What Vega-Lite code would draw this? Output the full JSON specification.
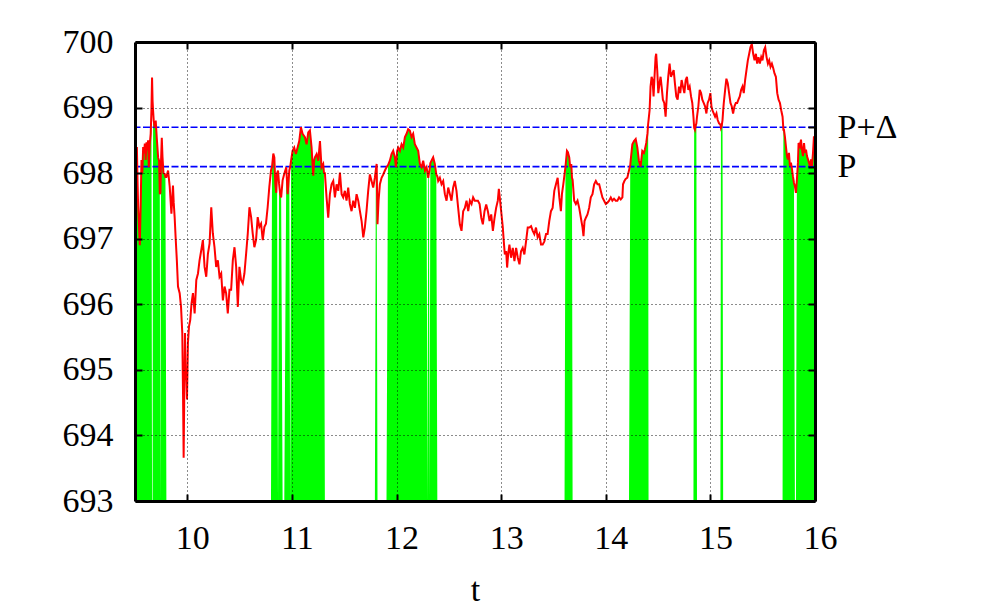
{
  "$schema": "https://vega.github.io/schema/vega-lite/v6.json",
  "width": 680,
  "height": 459,
  "autosize": {"type": "none"},
  "padding": {"left": 135, "top": 42, "right": 166, "bottom": 112},
  "background": "white",
  "config": {"view": {"stroke": null}, "font": "Liberation Serif"},
  "datasets": {
    "series": [
      {"t":9.500,"p":698.55,"f":698.55},{"t":9.506,"p":698.65,"f":698.65},{"t":9.512,"p":698.20,"f":698.20},{"t":9.518,"p":698.40,"f":698.40},
      {"t":9.524,"p":697.90,"f":697.90},{"t":9.530,"p":697.50,"f":697.50},{"t":9.538,"p":697.20,"f":697.20},{"t":9.546,"p":696.90,"f":696.90},
      {"t":9.554,"p":697.50,"f":697.50},{"t":9.562,"p":698.20,"f":698.20},{"t":9.570,"p":698.00,"f":698.00},{"t":9.578,"p":698.40,"f":698.40},
      {"t":9.586,"p":698.30,"f":698.30},{"t":9.594,"p":698.45,"f":698.45},{"t":9.602,"p":698.20,"f":698.20},{"t":9.610,"p":698.47,"f":698.47},
      {"t":9.618,"p":698.35,"f":698.35},{"t":9.625,"p":698.50,"f":698.50},{"t":9.632,"p":698.09,"f":698.09},{"t":9.641,"p":698.44,"f":698.44},
      {"t":9.650,"p":698.60,"f":698.60},{"t":9.657,"p":698.95,"f":698.95},{"t":9.663,"p":699.46},{"t":9.668,"p":699.10},
      {"t":9.673,"p":698.95,"f":698.95},{"t":9.679,"p":698.80,"f":698.80},{"t":9.689,"p":698.70,"f":698.70},{"t":9.698,"p":698.80,"f":698.80},
      {"t":9.708,"p":698.54,"f":698.54},{"t":9.721,"p":698.24,"f":698.24},{"t":9.730,"p":698.19,"f":698.19},{"t":9.737,"p":697.68,"f":697.68},
      {"t":9.743,"p":697.70},{"t":9.749,"p":698.19,"f":698.19},{"t":9.756,"p":698.54,"f":698.54},{"t":9.763,"p":698.24,"f":698.24},
      {"t":9.772,"p":698.00,"f":698.00},{"t":9.784,"p":697.99,"f":697.99},{"t":9.791,"p":697.94,"f":697.94},{"t":9.800,"p":697.94},
      {"t":9.816,"p":698.04},{"t":9.832,"p":697.79},{"t":9.848,"p":697.38},{"t":9.863,"p":697.81},{"t":9.870,"p":697.55},
      {"t":9.879,"p":697.33},{"t":9.888,"p":697.03},{"t":9.900,"p":696.67},{"t":9.911,"p":696.27},{"t":9.927,"p":696.17},
      {"t":9.940,"p":695.96},{"t":9.952,"p":695.56},{"t":9.959,"p":694.65},{"t":9.965,"p":693.66},{"t":9.971,"p":694.65},
      {"t":9.978,"p":695.56},{"t":9.984,"p":694.85},{"t":9.990,"p":695.00},{"t":9.997,"p":694.55},{"t":10.006,"p":695.41},
      {"t":10.016,"p":695.66},{"t":10.028,"p":695.76},{"t":10.040,"p":696.01},{"t":10.054,"p":696.17},{"t":10.070,"p":695.86},
      {"t":10.086,"p":696.37},{"t":10.102,"p":696.47},{"t":10.117,"p":696.67},{"t":10.133,"p":696.82},{"t":10.149,"p":696.98},
      {"t":10.165,"p":696.57},{"t":10.181,"p":696.42},{"t":10.197,"p":696.77},{"t":10.213,"p":696.93},{"t":10.229,"p":697.48},
      {"t":10.244,"p":697.08},{"t":10.260,"p":696.87},{"t":10.276,"p":696.57},{"t":10.292,"p":696.67},{"t":10.308,"p":696.42},
      {"t":10.324,"p":696.47},{"t":10.340,"p":696.06},{"t":10.356,"p":696.27},{"t":10.371,"p":696.17},{"t":10.387,"p":695.86},
      {"t":10.403,"p":696.22},{"t":10.419,"p":696.22},{"t":10.435,"p":696.67},{"t":10.451,"p":696.87},{"t":10.467,"p":696.57},
      {"t":10.483,"p":695.96},{"t":10.498,"p":696.57},{"t":10.514,"p":696.37},{"t":10.530,"p":696.32},{"t":10.546,"p":696.47},
      {"t":10.562,"p":696.77},{"t":10.578,"p":697.08},{"t":10.594,"p":697.48},{"t":10.610,"p":697.33},{"t":10.625,"p":697.08},
      {"t":10.641,"p":696.87},{"t":10.657,"p":696.98},{"t":10.673,"p":697.33},{"t":10.689,"p":697.18},{"t":10.705,"p":697.23},
      {"t":10.721,"p":696.98},{"t":10.737,"p":697.18},{"t":10.752,"p":697.23},{"t":10.768,"p":697.48},{"t":10.784,"p":697.79},
      {"t":10.800,"p":698.04},{"t":10.810,"p":698.10,"f":698.10},{"t":10.822,"p":698.30,"f":698.30},{"t":10.832,"p":698.24,"f":698.24},
      {"t":10.841,"p":697.84,"f":697.84},{"t":10.850,"p":697.70,"f":697.70},{"t":10.858,"p":698.00,"f":698.00},{"t":10.867,"p":698.04},
      {"t":10.877,"p":697.84,"f":697.84},{"t":10.887,"p":697.70,"f":697.70},{"t":10.897,"p":697.63,"f":697.63},{"t":10.911,"p":697.89},
      {"t":10.927,"p":697.99},{"t":10.946,"p":698.09,"f":698.09},{"t":10.959,"p":697.68,"f":697.68},{"t":10.975,"p":698.04,"f":698.04},
      {"t":10.984,"p":698.10},{"t":10.992,"p":698.19,"f":698.19},{"t":11.006,"p":698.34,"f":698.34},{"t":11.022,"p":698.39,"f":698.39},
      {"t":11.038,"p":698.29,"f":698.29},{"t":11.054,"p":698.39,"f":698.39},{"t":11.070,"p":698.49,"f":698.49},{"t":11.086,"p":698.70,"f":698.70},
      {"t":11.102,"p":698.60,"f":698.60},{"t":11.124,"p":698.55,"f":698.55},{"t":11.140,"p":698.44,"f":698.44},{"t":11.156,"p":698.62,"f":698.62},
      {"t":11.172,"p":698.65,"f":698.65},{"t":11.188,"p":698.39,"f":698.39},{"t":11.204,"p":697.96,"f":697.96},{"t":11.212,"p":698.19,"f":698.19},
      {"t":11.220,"p":698.24,"f":698.24},{"t":11.236,"p":698.29,"f":698.29},{"t":11.252,"p":698.19,"f":698.19},{"t":11.268,"p":698.49,"f":698.49},
      {"t":11.283,"p":698.09,"f":698.09},{"t":11.299,"p":698.14,"f":698.14},{"t":11.306,"p":698.01,"f":698.01},{"t":11.315,"p":698.00},
      {"t":11.331,"p":697.63},{"t":11.347,"p":697.32},{"t":11.363,"p":697.68},{"t":11.379,"p":697.83},{"t":11.395,"p":697.88},
      {"t":11.411,"p":697.63},{"t":11.427,"p":697.83},{"t":11.443,"p":697.73},{"t":11.459,"p":698.01},{"t":11.475,"p":697.68},
      {"t":11.490,"p":697.63},{"t":11.506,"p":697.73},{"t":11.522,"p":697.58},{"t":11.538,"p":697.78},{"t":11.554,"p":697.53},
      {"t":11.570,"p":697.42},{"t":11.586,"p":697.58},{"t":11.602,"p":697.47},{"t":11.618,"p":697.68},{"t":11.634,"p":697.58},
      {"t":11.650,"p":697.42},{"t":11.666,"p":697.27},{"t":11.682,"p":697.02},{"t":11.697,"p":697.17},{"t":11.713,"p":697.42},
      {"t":11.729,"p":697.73},{"t":11.745,"p":697.98},{"t":11.761,"p":697.88},{"t":11.777,"p":697.78},{"t":11.793,"p":697.93},
      {"t":11.802,"p":698.05,"f":698.05},{"t":11.810,"p":698.14,"f":698.14},{"t":11.818,"p":697.22},{"t":11.828,"p":697.58},
      {"t":11.841,"p":697.83},{"t":11.857,"p":697.93},{"t":11.873,"p":697.98},{"t":11.889,"p":698.04},{"t":11.904,"p":698.09},
      {"t":11.918,"p":698.12,"f":698.12},{"t":11.936,"p":698.19,"f":698.19},{"t":11.952,"p":698.29,"f":698.29},{"t":11.968,"p":698.34,"f":698.34},
      {"t":11.984,"p":698.24,"f":698.24},{"t":11.994,"p":698.09,"f":698.09},{"t":12.006,"p":698.34,"f":698.34},{"t":12.016,"p":698.39,"f":698.39},
      {"t":12.032,"p":698.34,"f":698.34},{"t":12.048,"p":698.44,"f":698.44},{"t":12.064,"p":698.39,"f":698.39},{"t":12.080,"p":698.55,"f":698.55},
      {"t":12.096,"p":698.60,"f":698.60},{"t":12.111,"p":698.67,"f":698.67},{"t":12.127,"p":698.65,"f":698.65},{"t":12.143,"p":698.55,"f":698.55},
      {"t":12.159,"p":698.60,"f":698.60},{"t":12.175,"p":698.44,"f":698.44},{"t":12.191,"p":698.39,"f":698.39},{"t":12.207,"p":698.34,"f":698.34},
      {"t":12.223,"p":698.14,"f":698.14},{"t":12.239,"p":698.09,"f":698.09},{"t":12.255,"p":698.19,"f":698.19},{"t":12.271,"p":698.04,"f":698.04},
      {"t":12.287,"p":698.09,"f":698.09},{"t":12.296,"p":698.00},{"t":12.303,"p":697.93,"f":697.93},{"t":12.310,"p":698.00,"f":698.00},
      {"t":12.316,"p":698.05},{"t":12.323,"p":698.15,"f":698.15},{"t":12.334,"p":698.19,"f":698.19},{"t":12.350,"p":698.24,"f":698.24},
      {"t":12.366,"p":698.14,"f":698.14},{"t":12.380,"p":697.98,"f":697.98},{"t":12.390,"p":697.95},{"t":12.398,"p":697.88},
      {"t":12.414,"p":697.93},{"t":12.430,"p":697.83},{"t":12.446,"p":697.88},{"t":12.462,"p":697.68},{"t":12.478,"p":697.58},
      {"t":12.494,"p":697.78},{"t":12.510,"p":697.68},{"t":12.525,"p":697.58},{"t":12.541,"p":697.78},{"t":12.557,"p":697.88},
      {"t":12.573,"p":697.73},{"t":12.589,"p":697.47},{"t":12.605,"p":697.22},{"t":12.621,"p":697.12},{"t":12.637,"p":697.42},
      {"t":12.653,"p":697.47},{"t":12.669,"p":697.58},{"t":12.685,"p":697.42},{"t":12.701,"p":697.58},{"t":12.717,"p":697.53},
      {"t":12.732,"p":697.63},{"t":12.748,"p":697.58},{"t":12.762,"p":697.58},{"t":12.778,"p":697.58},{"t":12.794,"p":697.53},
      {"t":12.810,"p":697.32},{"t":12.825,"p":697.22},{"t":12.841,"p":697.42},{"t":12.857,"p":697.52},{"t":12.873,"p":697.42},
      {"t":12.889,"p":697.27},{"t":12.905,"p":697.37},{"t":12.921,"p":697.12},{"t":12.937,"p":697.32},{"t":12.952,"p":697.47},
      {"t":12.968,"p":697.58},{"t":12.978,"p":697.76},{"t":12.990,"p":697.58},{"t":13.000,"p":697.42},{"t":13.016,"p":697.17},
      {"t":13.025,"p":696.96},{"t":13.035,"p":696.76},{"t":13.048,"p":696.81},{"t":13.057,"p":696.56},{"t":13.067,"p":696.76},
      {"t":13.079,"p":696.91},{"t":13.095,"p":696.71},{"t":13.111,"p":696.86},{"t":13.127,"p":696.66},{"t":13.143,"p":696.86},
      {"t":13.159,"p":696.71},{"t":13.175,"p":696.61},{"t":13.190,"p":696.81},{"t":13.206,"p":696.86},{"t":13.222,"p":696.76},
      {"t":13.238,"p":696.96},{"t":13.254,"p":697.17},{"t":13.270,"p":697.17},{"t":13.286,"p":697.19},{"t":13.302,"p":697.12},
      {"t":13.317,"p":697.07},{"t":13.333,"p":697.17},{"t":13.349,"p":697.02},{"t":13.365,"p":697.07},{"t":13.381,"p":696.91},
      {"t":13.397,"p":696.91},{"t":13.413,"p":696.96},{"t":13.429,"p":697.07},{"t":13.444,"p":697.07},{"t":13.460,"p":697.27},
      {"t":13.476,"p":697.42},{"t":13.492,"p":697.47},{"t":13.508,"p":697.73},{"t":13.524,"p":697.83},{"t":13.540,"p":697.93},
      {"t":13.556,"p":697.63},{"t":13.571,"p":697.42},{"t":13.581,"p":697.68},{"t":13.594,"p":697.83},{"t":13.606,"p":697.98},
      {"t":13.615,"p":698.10,"f":698.10},{"t":13.629,"p":698.34,"f":698.34},{"t":13.638,"p":698.32,"f":698.32},{"t":13.651,"p":698.24,"f":698.24},
      {"t":13.660,"p":698.09,"f":698.09},{"t":13.670,"p":698.14,"f":698.14},{"t":13.677,"p":697.93,"f":697.93},{"t":13.683,"p":697.90},
      {"t":13.698,"p":697.58},{"t":13.714,"p":697.53},{"t":13.730,"p":697.58},{"t":13.746,"p":697.47},{"t":13.762,"p":697.32},
      {"t":13.778,"p":697.17},{"t":13.787,"p":697.04},{"t":13.797,"p":697.27},{"t":13.810,"p":697.32},{"t":13.825,"p":697.37},
      {"t":13.841,"p":697.47},{"t":13.857,"p":697.63},{"t":13.873,"p":697.68},{"t":13.889,"p":697.83},{"t":13.905,"p":697.88},
      {"t":13.921,"p":697.83},{"t":13.937,"p":697.83},{"t":13.952,"p":697.73},{"t":13.968,"p":697.63},{"t":13.984,"p":697.58},
      {"t":14.000,"p":697.53},{"t":14.016,"p":697.55},{"t":14.032,"p":697.58},{"t":14.048,"p":697.63},{"t":14.063,"p":697.58},
      {"t":14.079,"p":697.61},{"t":14.095,"p":697.58},{"t":14.111,"p":697.58},{"t":14.127,"p":697.63},{"t":14.143,"p":697.60},
      {"t":14.159,"p":697.63},{"t":14.165,"p":697.83},{"t":14.178,"p":697.88},{"t":14.190,"p":697.91},{"t":14.206,"p":697.93},
      {"t":14.222,"p":698.04},{"t":14.234,"p":698.12,"f":698.12},{"t":14.238,"p":698.19,"f":698.19},{"t":14.254,"p":698.44,"f":698.44},
      {"t":14.270,"p":698.49,"f":698.49},{"t":14.286,"p":698.52,"f":698.52},{"t":14.302,"p":698.39,"f":698.39},{"t":14.317,"p":698.19,"f":698.19},
      {"t":14.333,"p":698.10,"f":698.10},{"t":14.349,"p":698.34,"f":698.34},{"t":14.365,"p":698.31,"f":698.31},{"t":14.374,"p":698.36,"f":698.36},
      {"t":14.387,"p":698.46,"f":698.46},{"t":14.399,"p":698.61,"f":698.61},{"t":14.405,"p":698.75,"f":698.75},{"t":14.409,"p":698.81},
      {"t":14.419,"p":698.96},{"t":14.428,"p":699.32},{"t":14.438,"p":699.47},{"t":14.447,"p":699.42},{"t":14.457,"p":699.17},
      {"t":14.466,"p":699.47},{"t":14.476,"p":699.77},{"t":14.482,"p":699.82},{"t":14.492,"p":699.57},{"t":14.502,"p":699.22},
      {"t":14.514,"p":699.37},{"t":14.524,"p":699.47},{"t":14.534,"p":699.32},{"t":14.546,"p":699.12},{"t":14.559,"p":699.07},
      {"t":14.572,"p":698.86},{"t":14.585,"p":699.22},{"t":14.597,"p":699.47},{"t":14.610,"p":699.67},{"t":14.623,"p":699.47},
      {"t":14.636,"p":699.52},{"t":14.649,"p":699.57},{"t":14.661,"p":699.37},{"t":14.674,"p":699.17},{"t":14.687,"p":699.12},
      {"t":14.700,"p":699.32},{"t":14.712,"p":699.22},{"t":14.725,"p":699.42},{"t":14.738,"p":699.32},{"t":14.751,"p":699.22},
      {"t":14.764,"p":699.42},{"t":14.776,"p":699.47},{"t":14.789,"p":699.27},{"t":14.802,"p":699.32},{"t":14.815,"p":699.17},
      {"t":14.827,"p":699.07},{"t":14.838,"p":698.86},{"t":14.845,"p":698.69,"f":698.69},{"t":14.852,"p":698.66,"f":698.66},
      {"t":14.859,"p":698.72,"f":698.72},{"t":14.866,"p":698.76,"f":698.76},{"t":14.872,"p":698.86},{"t":14.885,"p":699.02},
      {"t":14.898,"p":699.27},{"t":14.911,"p":699.22},{"t":14.923,"p":699.12},{"t":14.936,"p":699.07},{"t":14.949,"p":699.02},
      {"t":14.962,"p":698.91},{"t":14.974,"p":699.07},{"t":14.987,"p":699.12},{"t":15.000,"p":699.22},{"t":15.010,"p":699.02},
      {"t":15.019,"p":698.96},{"t":15.032,"p":698.91},{"t":15.045,"p":698.86},{"t":15.058,"p":698.91},{"t":15.070,"p":698.81},
      {"t":15.083,"p":698.76},{"t":15.096,"p":698.74},{"t":15.101,"p":698.69,"f":698.69},{"t":15.108,"p":698.72,"f":698.72},
      {"t":15.116,"p":698.81,"f":698.81},{"t":15.122,"p":698.95},{"t":15.128,"p":699.07},{"t":15.141,"p":699.27},{"t":15.153,"p":699.44},
      {"t":15.166,"p":699.37},{"t":15.179,"p":699.22},{"t":15.192,"p":699.07},{"t":15.204,"p":699.02},{"t":15.217,"p":698.91},
      {"t":15.230,"p":699.02},{"t":15.243,"p":699.07},{"t":15.256,"p":699.07},{"t":15.268,"p":699.12},{"t":15.281,"p":699.17},
      {"t":15.294,"p":699.27},{"t":15.307,"p":699.32},{"t":15.319,"p":699.22},{"t":15.332,"p":699.42},{"t":15.345,"p":699.57},
      {"t":15.358,"p":699.72},{"t":15.371,"p":699.82},{"t":15.383,"p":699.92},{"t":15.396,"p":699.97},{"t":15.409,"p":699.82},
      {"t":15.422,"p":699.72},{"t":15.435,"p":699.82},{"t":15.447,"p":699.67},{"t":15.460,"p":699.77},{"t":15.473,"p":699.67},
      {"t":15.486,"p":699.77},{"t":15.498,"p":699.72},{"t":15.511,"p":699.87},{"t":15.524,"p":699.92},{"t":15.537,"p":699.77},
      {"t":15.550,"p":699.67},{"t":15.562,"p":699.72},{"t":15.575,"p":699.62},{"t":15.588,"p":699.67},{"t":15.601,"p":699.60},
      {"t":15.613,"p":699.52},{"t":15.626,"p":699.47},{"t":15.639,"p":699.22},{"t":15.652,"p":699.12},{"t":15.665,"p":699.07},
      {"t":15.677,"p":698.96},{"t":15.690,"p":698.86},{"t":15.698,"p":698.66,"f":698.66},{"t":15.703,"p":698.66,"f":698.66},
      {"t":15.712,"p":698.56,"f":698.56},{"t":15.722,"p":698.41,"f":698.41},{"t":15.732,"p":698.26,"f":698.26},{"t":15.741,"p":698.21,"f":698.21},
      {"t":15.751,"p":698.31,"f":698.31},{"t":15.760,"p":698.11,"f":698.11},{"t":15.770,"p":698.16,"f":698.16},{"t":15.780,"p":698.06,"f":698.06},
      {"t":15.789,"p":697.95,"f":697.95},{"t":15.799,"p":697.85,"f":697.85},{"t":15.808,"p":697.80},{"t":15.818,"p":697.70},
      {"t":15.827,"p":697.90,"f":697.90},{"t":15.837,"p":698.16,"f":698.16},{"t":15.843,"p":698.46,"f":698.46},{"t":15.856,"p":698.41,"f":698.41},
      {"t":15.866,"p":698.51,"f":698.51},{"t":15.875,"p":698.36,"f":698.36},{"t":15.885,"p":698.26,"f":698.26},{"t":15.895,"p":698.46,"f":698.46},
      {"t":15.904,"p":698.31,"f":698.31},{"t":15.914,"p":698.36,"f":698.36},{"t":15.923,"p":698.26,"f":698.26},{"t":15.933,"p":698.21,"f":698.21},
      {"t":15.942,"p":698.16,"f":698.16},{"t":15.952,"p":698.11,"f":698.11},{"t":15.962,"p":698.21,"f":698.21},{"t":15.971,"p":698.11,"f":698.11},
      {"t":15.981,"p":698.31,"f":698.31},{"t":15.990,"p":698.56,"f":698.56},{"t":16.000,"p":698.50,"f":698.50}
    ],
    "levels": [{"name": "P+Δ", "level": 698.7}, {"name": "P", "level": 698.1}]
  },
  "resolve": {"axis": {"x": "independent", "y": "independent"}},
  "layer": [
    {
      "data": {"name": "series"},
      "mark": {"type": "area", "color": "#00ff00", "invalid": null, "interpolate": "linear"},
      "encoding": {
        "x": {"field": "t", "type": "quantitative",
          "scale": {"domain": [9.5, 16], "nice": false, "zero": false},
          "axis": {"orient": "top", "values": [10, 11, 12, 13, 14, 15, 16], "labels": false, "title": null, "grid": false,
            "ticks": true, "tickSize": -7, "tickWidth": 2, "tickColor": "black",
            "domain": true, "domainColor": "black", "domainWidth": 3, "zindex": 1}},
        "y": {"field": "f", "type": "quantitative",
          "scale": {"domain": [693, 700], "nice": false, "zero": false},
          "axis": {"orient": "right", "values": [693, 694, 695, 696, 697, 698, 698.1, 698.7, 699, 700],
            "labelExpr": "datum.value == 698.7 ? 'P+Δ' : (datum.value == 698.1 ? 'P' : '')",
            "labelFont": "Liberation Serif", "labelFontSize": 34, "labelColor": "black", "labelAlign": "left",
            "labelPadding": 29, "labelOverlap": false, "labelFlush": false, "labelBound": false,
            "title": null, "grid": false,
            "ticks": true, "tickSize": -7, "tickWidth": 2, "tickColor": "black",
            "domain": true, "domainColor": "black", "domainWidth": 3, "zindex": 1}},
        "y2": {"datum": 693}
      }
    },
    {
      "data": {"name": "levels"},
      "mark": {"type": "rule", "color": "#0000ff", "strokeWidth": 1.6, "strokeDash": [7, 2.5]},
      "encoding": {
        "y": {"field": "level", "type": "quantitative", "axis": null}
      }
    },
    {
      "data": {"name": "series"},
      "mark": {"type": "line", "color": "#ff0000", "strokeWidth": 2, "interpolate": "linear"},
      "encoding": {
        "x": {"field": "t", "type": "quantitative",
          "scale": {"domain": [9.5, 16], "nice": false, "zero": false},
          "axis": {"orient": "bottom", "values": [10, 11, 12, 13, 14, 15, 16], "format": "d",
            "labelFont": "Liberation Serif", "labelFontSize": 34, "labelColor": "black",
            "labelPadding": 27, "labelOffset": 5, "labelOverlap": false, "labelFlush": false, "labelBound": false,
            "title": "t", "titleFont": "Liberation Serif", "titleFontSize": 34, "titleFontWeight": "normal", "titleColor": "black",
            "titleBaseline": "alphabetic", "titleY": 99,
            "grid": true, "gridColor": "black", "gridWidth": 1, "gridDash": [1, 3], "gridOpacity": 0.9,
            "ticks": true, "tickSize": -7, "tickWidth": 2, "tickColor": "black",
            "domain": true, "domainColor": "black", "domainWidth": 3, "zindex": 1}},
        "y": {"field": "p", "type": "quantitative",
          "scale": {"domain": [693, 700], "nice": false, "zero": false},
          "axis": {"orient": "left", "values": [693, 694, 695, 696, 697, 698, 699, 700], "format": "d",
            "labelFont": "Liberation Serif", "labelFontSize": 34, "labelColor": "black",
            "labelPadding": 29, "labelOverlap": false, "labelFlush": false, "labelBound": false,
            "title": null,
            "grid": true, "gridColor": "black", "gridWidth": 1, "gridDash": [1, 3], "gridOpacity": 0.9,
            "ticks": true, "tickSize": -7, "tickWidth": 2, "tickColor": "black",
            "domain": true, "domainColor": "black", "domainWidth": 3, "zindex": 1}}
      }
    }
  ]
}
